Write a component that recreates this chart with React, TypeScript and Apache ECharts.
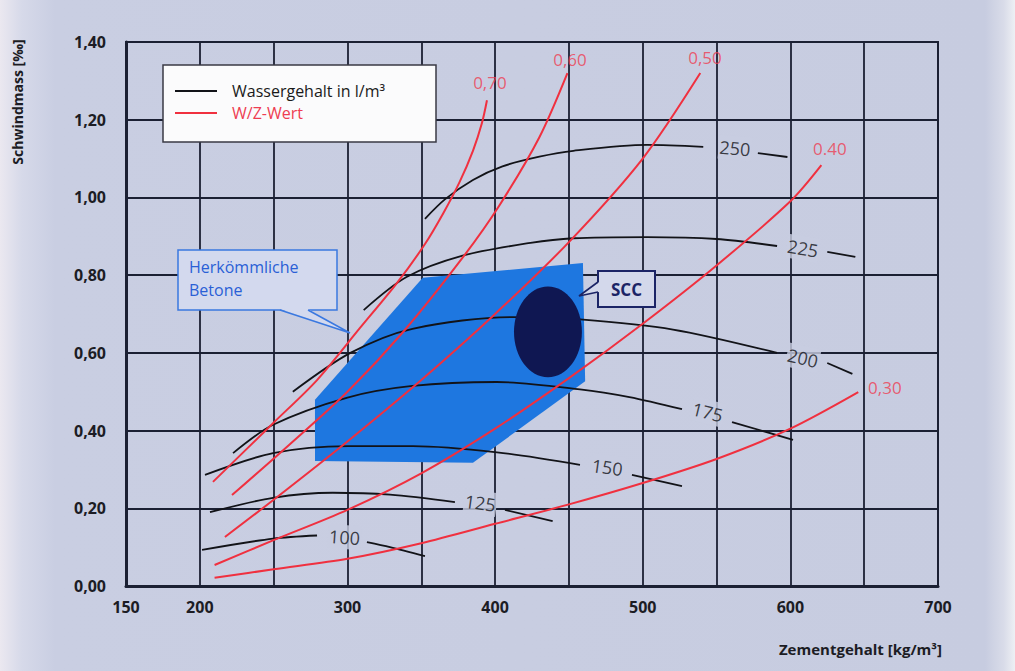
import React, { useEffect, useRef } from "react";
import * as echarts from "echarts";

// ---------- data ----------
const xTickLabels = [150, 200, 300, 400, 500, 600, 700];
const yTickLabels = ["0,00", "0,20", "0,40", "0,60", "0,80", "1,00", "1,20", "1,40"];

// Wassergehalt curves [Zementgehalt kg/m³, Schwindmass ‰]; head = before label, tail = after label
const water250 = [[352.5, 0.945], [366, 0.995], [385, 1.045], [405, 1.08], [430, 1.105], [453, 1.12], [503, 1.135], [541, 1.13]];
const water250Tail = [[578, 1.114], [598, 1.104]];
const water225 = [[311, 0.71], [340, 0.795], [378, 0.85], [424, 0.883], [453, 0.895], [503, 0.898], [550, 0.893], [591, 0.875]];
const water225Tail = [[625, 0.86], [644, 0.847]];
const water200 = [[263, 0.5], [302, 0.6], [344, 0.662], [412, 0.692], [457.5, 0.686], [520.5, 0.66], [591, 0.6]];
const water200Tail = [[625, 0.574], [642, 0.546]];
const water175 = [[222.5, 0.342], [249.6, 0.415], [300, 0.485], [344, 0.515], [401, 0.525], [457.5, 0.506], [491, 0.486], [526.6, 0.455]];
const water175Tail = [[560.5, 0.422], [601.8, 0.376]];
const water150 = [[203.5, 0.286], [249.6, 0.342], [300.4, 0.36], [344.4, 0.36], [401.3, 0.344], [457.5, 0.312]];
const water150Tail = [[492.7, 0.286], [526.6, 0.257]];
const water125 = [[206.9, 0.19], [249.6, 0.227], [290, 0.24], [328.8, 0.235], [372.8, 0.216]];
const water125Tail = [[406.7, 0.196], [439, 0.167]];
const water100 = [[201.5, 0.093], [249.6, 0.122], [279.4, 0.13]];
const water100Tail = [[313.2, 0.113], [328.8, 0.1], [352.5, 0.077]];

const waterNames = ["250", "225", "200", "175", "150", "125", "100"];
const waterHeads = [water250, water225, water200, water175, water150, water125, water100];
const waterTails = [water250Tail, water225Tail, water200Tail, water175Tail, water150Tail, water125Tail, water100Tail];
const waterLabelAt = [[562.5, 1.127], [608.5, 0.869], [608.5, 0.587], [544, 0.448], [476, 0.306], [390, 0.214], [298, 0.126]];

// W/Z-Wert curves
const wz070 = [[208.9, 0.268], [249.6, 0.419], [279.4, 0.53], [308.5, 0.664], [333.6, 0.78], [352.5, 0.88], [365, 0.96], [376, 1.04], [385, 1.12], [391, 1.19], [394.5, 1.25]];
const wz060 = [[221.8, 0.234], [261, 0.365], [300, 0.5], [338, 0.655], [378, 0.845], [403, 0.98], [430, 1.155], [449, 1.32]];
const wz050 = [[217, 0.126], [250, 0.222], [300, 0.372], [350, 0.53], [400, 0.7], [450, 0.885], [500, 1.1], [539, 1.32]];
const wz040 = [[210, 0.054], [250, 0.118], [300, 0.196], [350, 0.29], [400, 0.405], [450, 0.535], [500, 0.675], [550, 0.825], [600, 0.99], [621, 1.083]];
const wz030 = [[210, 0.021], [250, 0.043], [300, 0.07], [350, 0.11], [400, 0.16], [450, 0.21], [500, 0.265], [550, 0.327], [600, 0.405], [646, 0.499]];

const wzNames = ["0,70", "0,60", "0,50", "0.40", "0,30"];
const wzCurves = [wz070, wz060, wz050, wz040, wz030];
const wzLabelAt = [[396.5, 1.297], [450.7, 1.354], [542.2, 1.359], [626.8, 1.127], [664, 0.512]];

// regions
const betonePolygon = [[278, 0.479], [351, 0.793], [459.5, 0.831], [461, 0.527], [385, 0.317], [278, 0.322]];
const sccCenter = [435.8, 0.654];
const sccRadius = [23, 0.117];

// ---------- styles ----------
const FONT = "Open Sans";
const BG = "#c8cde1";
const BLACK = "#121318";
const RED = "#f0303f";
const RED_TEXT = "#ee3d52";
const GRID = "#1b2033";
const WATER = "Wassergehalt in l/m³";
const WZ = "W/Z-Wert";
const waterTilt = [-5, -10, -13, -14, -8, -8, -4];

export default function App() {
  const ref = useRef<HTMLDivElement>(null);

  useEffect(() => {
    if (!ref.current) return;
    const chart = echarts.init(ref.current, undefined, { renderer: "svg" });

    const blackLine = (data: number[][]) => ({
      type: "line",
      name: WATER,
      data,
      smooth: 0.3,
      symbol: "none",
      showSymbol: false,
      color: BLACK,
      lineStyle: { color: BLACK, width: 1.8 },
      z: 3,
      silent: true,
    });
    const redLine = (data: number[][]) => ({
      type: "line",
      name: WZ,
      data,
      smooth: 0.3,
      symbol: "none",
      showSymbol: false,
      color: RED,
      lineStyle: { color: RED, width: 2 },
      z: 3,
      silent: true,
    });

    const series: any[] = [
      {
        type: "custom",
        name: "Herkömmliche Betone",
        data: betonePolygon,
        encode: { x: 0, y: 1 },
        z: 1,
        silent: true,
        renderItem: (params: any, api: any) => {
          if (params.dataIndex !== 0) return { type: "group", children: [] };
          return {
            type: "polygon",
            shape: { points: betonePolygon.map((p) => api.coord(p)) },
            style: { fill: "#1e77e0" },
          };
        },
      },
      {
        type: "scatter",
        name: "Wasserlabels",
        data: waterLabelAt.map((p, i) => ({
          value: p,
          label: { formatter: waterNames[i], rotate: waterTilt[i] },
        })),
        symbolSize: 1,
        itemStyle: { color: "rgba(0,0,0,0)" },
        label: {
          show: true,
          position: "inside",
          color: BLACK,
          fontSize: 18,
          fontFamily: FONT,
          backgroundColor: BG,
          padding: [3, 1],
        },
        z: 2,
        silent: true,
      },
      ...waterHeads.map(blackLine),
      ...waterTails.map(blackLine),
      ...wzCurves.map(redLine),
      {
        type: "scatter",
        name: "WZlabels",
        data: wzLabelAt.map((p, i) => ({ value: p, label: { formatter: wzNames[i] } })),
        symbolSize: 1,
        itemStyle: { color: "rgba(0,0,0,0)" },
        label: { show: true, position: "inside", color: RED_TEXT, fontSize: 17, fontFamily: FONT },
        z: 4,
        silent: true,
      },
      {
        type: "custom",
        name: "SCC",
        data: [sccCenter],
        encode: { x: 0, y: 1 },
        z: 5,
        silent: true,
        renderItem: (params: any, api: any) => {
          const c = api.coord(sccCenter);
          const s = api.size([sccRadius[0], sccRadius[1]]);
          return {
            type: "ellipse",
            shape: { cx: c[0], cy: c[1], rx: s[0], ry: s[1] },
            style: { fill: "#0f1752" },
          };
        },
      },
    ];

    chart.setOption({
      animation: false,
      backgroundColor: "transparent",
      textStyle: { fontFamily: FONT },
      grid: {
        left: 126,
        right: 77,
        top: 42,
        bottom: 85,
        show: true,
        borderColor: GRID,
        borderWidth: 2,
      },
      xAxis: {
        type: "value",
        min: 150,
        max: 700,
        interval: 50,
        axisLine: { show: true, lineStyle: { color: GRID, width: 3 } },
        axisTick: { show: false },
        splitLine: { show: true, lineStyle: { color: GRID, width: 1.8 } },
        axisLabel: {
          margin: 13,
          color: "#1c1c24",
          fontWeight: "bold",
          fontSize: 16,
          fontFamily: FONT,
          formatter: (v: number) => (xTickLabels.includes(v) ? String(v) : ""),
        },
      },
      yAxis: {
        type: "value",
        min: 0,
        max: 1.4,
        interval: 0.2,
        axisLine: { show: true, lineStyle: { color: GRID, width: 3 } },
        axisTick: { show: false },
        splitLine: { show: true, lineStyle: { color: GRID, width: 1.8 } },
        axisLabel: {
          margin: 20,
          color: "#1c1c24",
          fontWeight: "bold",
          fontSize: 16,
          fontFamily: FONT,
          formatter: (v: number) => yTickLabels[Math.round(v / 0.2)] ?? "",
        },
      },
      legend: {
        left: 175,
        top: 82,
        orient: "vertical",
        itemWidth: 42,
        itemHeight: 2,
        itemGap: 4,
        padding: 0,
        selectedMode: false,
        textStyle: { fontSize: 16, fontFamily: FONT, color: "#1a1a1a", lineHeight: 18, padding: [0, 0, 0, 10] },
        data: [
          { name: WATER, icon: "rect" },
          { name: WZ, icon: "rect", textStyle: { color: RED_TEXT } },
        ],
      },
      graphic: [
        {
          type: "rect",
          z: 1,
          shape: { x: 163, y: 65, width: 273, height: 77 },
          style: { fill: "#fbfbfc", stroke: "#3a3a44", lineWidth: 1.5 },
        },
        {
          type: "rect",
          z: 6,
          shape: { x: 178, y: 250, width: 159, height: 60 },
          style: { fill: "#d3d9ee", stroke: "#3a78e0", lineWidth: 1.5 },
        },
        {
          type: "polygon",
          z: 6,
          shape: { points: [[280, 309], [350, 333], [308, 309]] },
          style: { fill: "#d3d9ee" },
        },
        {
          type: "polyline",
          z: 6,
          shape: { points: [[280, 310], [350, 333], [308, 310]] },
          style: { fill: "none", stroke: "#3a78e0", lineWidth: 1.5 },
        },
        {
          type: "text",
          z: 7,
          x: 189,
          y: 267,
          style: { text: "Herkömmliche", fill: "#2a5fd6", fontSize: 16, fontFamily: FONT, verticalAlign: "middle", textVerticalAlign: "middle" },
        },
        {
          type: "text",
          z: 7,
          x: 189,
          y: 290,
          style: { text: "Betone", fill: "#2a5fd6", fontSize: 16, fontFamily: FONT, verticalAlign: "middle", textVerticalAlign: "middle" },
        },
        {
          type: "rect",
          z: 6,
          shape: { x: 598, y: 271, width: 57, height: 36 },
          style: { fill: "#d3d8eb", stroke: "#1b2466", lineWidth: 2 },
        },
        {
          type: "polygon",
          z: 6,
          shape: { points: [[599, 282], [579, 296], [599, 292]] },
          style: { fill: "#d3d8eb" },
        },
        {
          type: "polyline",
          z: 6,
          shape: { points: [[598, 282], [579, 296], [598, 292]] },
          style: { fill: "none", stroke: "#1b2466", lineWidth: 1.6 },
        },
        {
          type: "text",
          z: 7,
          x: 626.5,
          y: 289,
          style: {
            text: "SCC",
            fill: "#1b2466",
            fontSize: 17,
            fontWeight: "bold",
            fontFamily: FONT,
            align: "center",
            textAlign: "center",
            verticalAlign: "middle",
            textVerticalAlign: "middle",
          },
        },
        {
          type: "text",
          x: 17,
          y: 102,
          rotation: Math.PI / 2,
          style: {
            text: "Schwindmass [‰]",
            fill: "#1c1c24",
            fontSize: 14,
            fontWeight: "bold",
            fontFamily: FONT,
            align: "center",
            textAlign: "center",
            verticalAlign: "middle",
            textVerticalAlign: "middle",
          },
        },
        {
          type: "text",
          x: 942,
          y: 649,
          style: {
            text: "Zementgehalt [kg/m³]",
            fill: "#1c1c24",
            fontSize: 15,
            fontWeight: "bold",
            fontFamily: FONT,
            align: "right",
            textAlign: "right",
            verticalAlign: "middle",
            textVerticalAlign: "middle",
          },
        },
      ],
      series,
    });

    return () => chart.dispose();
  }, []);

  return (
    <div
      style={{
        position: "fixed",
        left: 0,
        top: 0,
        width: 1015,
        height: 671,
        background:
          "linear-gradient(90deg, #ebe8f0 0px, #d6d9e9 22px, #c9cee2 55px, #c7cce0 985px, #d9dce9 1004px, #eef0f4 1015px)",
      }}
    >
      <div ref={ref} style={{ width: 1015, height: 671 }} />
    </div>
  );
}
